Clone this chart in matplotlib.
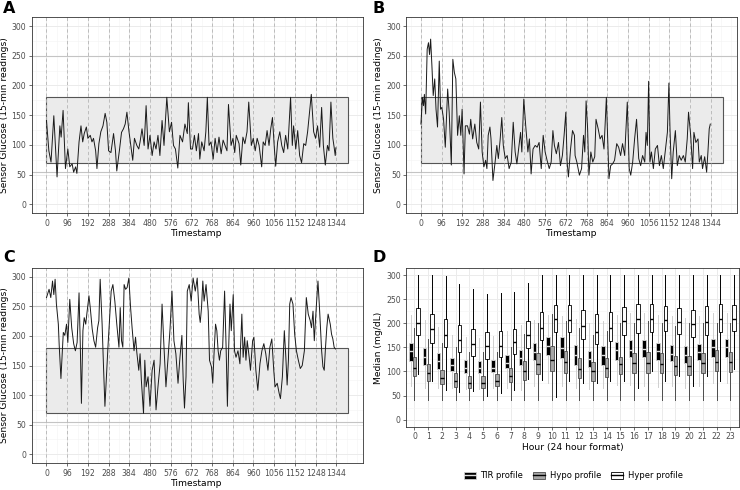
import numpy as np
import matplotlib
matplotlib.use("Agg")
from matplotlib import pyplot as plt
from matplotlib.patches import Rectangle, Patch
from matplotlib.lines import Line2D
from matplotlib.ticker import MultipleLocator

# ---- time series (timestamp, glucose) key points ----
series_a = [(0, 141), (11, 90), (21, 71), (34, 149), (49, 46), (62, 132), (68, 113), (77, 158),
            (88, 60), (99, 93), (108, 63), (119, 68), (126, 54), (135, 63), (141, 52), (151, 105),
            (160, 132), (168, 105), (175, 119), (185, 130), (192, 111), (203, 116), (211, 105),
            (218, 111), (228, 90), (234, 60), (243, 102), (252, 122), (262, 132), (272, 153),
            (280, 138), (288, 90), (299, 87), (311, 119), (320, 90), (326, 56), (339, 93),
            (348, 121), (357, 127), (365, 135), (373, 155), (382, 124), (391, 99), (400, 74),
            (408, 111), (419, 99), (428, 93), (434, 105), (443, 127), (453, 99), (462, 166),
            (471, 93), (480, 116), (490, 82), (499, 105), (508, 93), (517, 116), (526, 82),
            (536, 141), (545, 99), (558, 180), (570, 122), (580, 138), (589, 99), (598, 93),
            (609, 61), (619, 116), (631, 105), (642, 135), (653, 119), (658, 171), (668, 93),
            (677, 93), (686, 116), (695, 90), (705, 119), (711, 76), (720, 105), (731, 90),
            (739, 122), (746, 180), (754, 99), (763, 105), (773, 76), (782, 111), (791, 87),
            (800, 113), (810, 85), (819, 108), (828, 99), (837, 90), (844, 168), (856, 99),
            (865, 111), (873, 87), (880, 116), (893, 102), (901, 66), (911, 113), (920, 102),
            (930, 122), (938, 172), (950, 99), (959, 111), (968, 90), (977, 111), (986, 99),
            (998, 63), (1005, 105), (1014, 99), (1023, 124), (1032, 99), (1040, 127), (1048, 146),
            (1057, 93), (1063, 64), (1072, 105), (1082, 122), (1091, 99), (1100, 87), (1109, 116),
            (1119, 93), (1132, 180), (1140, 99), (1146, 132), (1156, 93), (1165, 124), (1174, 82),
            (1183, 70), (1193, 102), (1202, 99), (1211, 122), (1220, 155), (1228, 185), (1239, 122),
            (1248, 111), (1257, 132), (1267, 96), (1276, 163), (1284, 99), (1293, 66), (1303, 99),
            (1310, 90), (1319, 172), (1328, 111), (1334, 96), (1339, 82), (1342, 95)]

series_b = [(0, 135), (7, 180), (12, 166), (16, 185), (22, 152), (29, 261), (35, 272), (40, 252),
            (45, 278), (51, 233), (57, 183), (64, 211), (70, 160), (77, 130), (85, 241), (91, 160),
            (97, 163), (105, 143), (113, 96), (124, 194), (131, 155), (141, 66), (148, 244),
            (155, 222), (162, 211), (170, 116), (178, 149), (185, 116), (191, 160), (200, 51),
            (206, 132), (216, 132), (225, 118), (231, 143), (240, 110), (250, 135), (259, 104),
            (268, 93), (276, 172), (284, 88), (292, 63), (300, 74), (306, 60), (312, 116),
            (320, 130), (325, 110), (334, 40), (344, 71), (352, 99), (359, 77), (367, 107),
            (375, 146), (382, 99), (391, 77), (400, 82), (409, 60), (419, 71), (428, 138),
            (437, 88), (445, 68), (453, 93), (462, 121), (468, 88), (477, 177), (486, 132),
            (496, 88), (503, 110), (511, 51), (520, 93), (530, 99), (539, 96), (548, 104),
            (558, 60), (567, 116), (576, 88), (585, 74), (595, 60), (604, 71), (612, 124),
            (619, 99), (628, 85), (638, 104), (647, 65), (656, 82), (664, 116), (672, 155),
            (678, 71), (684, 46), (694, 93), (703, 124), (712, 116), (715, 82), (723, 71),
            (735, 49), (745, 60), (754, 116), (760, 88), (766, 174), (773, 127), (779, 49),
            (788, 88), (797, 71), (806, 80), (812, 143), (822, 127), (831, 110), (840, 116),
            (849, 93), (860, 180), (866, 110), (872, 43), (880, 65), (889, 68), (898, 74),
            (908, 102), (917, 96), (926, 82), (935, 102), (945, 82), (957, 172), (966, 60),
            (973, 49), (982, 71), (991, 110), (1000, 143), (1010, 77), (1019, 65), (1028, 82),
            (1038, 71), (1044, 121), (1050, 99), (1056, 207), (1062, 71), (1069, 88), (1078, 60),
            (1087, 93), (1097, 99), (1106, 65), (1115, 82), (1124, 60), (1134, 93), (1143, 121),
            (1150, 204), (1155, 127), (1163, 43), (1170, 88), (1180, 124), (1189, 65), (1198, 82),
            (1207, 74), (1217, 82), (1226, 71), (1235, 110), (1241, 155), (1251, 116), (1260, 60),
            (1266, 121), (1275, 104), (1285, 110), (1291, 71), (1300, 82), (1306, 60), (1316, 80),
            (1325, 54), (1331, 88), (1337, 127), (1342, 135)]

series_c = [(0, 265), (12, 279), (20, 265), (28, 293), (34, 270), (40, 296), (46, 254), (55, 220),
            (59, 184), (67, 128), (73, 170), (78, 206), (85, 201), (93, 220), (99, 189), (108, 262),
            (117, 214), (126, 187), (134, 175), (142, 189), (151, 273), (157, 181), (162, 86),
            (169, 209), (175, 231), (182, 220), (188, 240), (197, 268), (203, 248), (212, 212),
            (220, 192), (228, 181), (237, 214), (243, 226), (249, 296), (258, 220), (264, 153),
            (271, 81), (277, 125), (285, 181), (292, 226), (300, 276), (308, 287), (317, 259),
            (326, 220), (336, 181), (342, 248), (348, 192), (354, 181), (360, 287), (367, 279),
            (374, 282), (382, 298), (390, 248), (397, 214), (406, 175), (413, 198), (419, 172),
            (428, 142), (434, 170), (440, 125), (450, 69), (456, 159), (462, 114), (471, 131),
            (480, 81), (490, 142), (499, 159), (508, 75), (517, 114), (527, 153), (536, 254),
            (545, 181), (554, 114), (564, 164), (573, 212), (582, 276), (591, 192), (600, 170),
            (610, 120), (619, 164), (628, 201), (634, 125), (640, 78), (647, 131), (653, 276),
            (662, 287), (671, 259), (680, 298), (690, 276), (699, 298), (708, 237), (713, 223),
            (719, 248), (725, 293), (731, 259), (740, 287), (750, 242), (756, 159), (765, 148),
            (771, 120), (777, 170), (784, 220), (790, 209), (796, 175), (802, 159), (808, 175),
            (817, 181), (826, 276), (833, 181), (839, 81), (845, 181), (851, 254), (857, 209),
            (866, 270), (872, 175), (879, 164), (888, 175), (897, 153), (906, 237), (912, 164),
            (919, 198), (925, 159), (931, 192), (940, 164), (946, 142), (956, 192), (962, 198),
            (971, 142), (980, 108), (990, 153), (999, 175), (1008, 187), (1017, 170), (1027, 142),
            (1036, 181), (1045, 195), (1054, 142), (1060, 114), (1070, 120), (1079, 103),
            (1085, 94), (1094, 131), (1103, 209), (1110, 164), (1116, 117), (1122, 159),
            (1128, 254), (1134, 265), (1143, 254), (1151, 203), (1159, 175), (1168, 159),
            (1177, 145), (1186, 150), (1196, 175), (1205, 265), (1214, 237), (1223, 226),
            (1229, 214), (1236, 242), (1242, 192), (1251, 248), (1259, 293), (1266, 248),
            (1276, 175), (1282, 148), (1288, 142), (1294, 181), (1300, 214), (1306, 237),
            (1316, 220), (1322, 203), (1328, 195), (1334, 181), (1340, 178)]

timestamp_ticks = list(range(0, 1345, 96))

# ---- hourly box statistics (mg/dL) ----
hours = list(range(24))
profiles = ["TIR profile", "Hypo profile", "Hyper profile"]

tir_q1 = [122, 114, 106, 100, 97, 97, 99, 107, 113, 124, 135, 128, 114, 109, 114, 124, 131, 131, 124, 121, 118, 123, 131, 131]
tir_med = [143, 130, 122, 113, 108, 107, 108, 117, 128, 140, 152, 148, 135, 125, 134, 145, 145, 147, 143, 137, 135, 140, 150, 150]
tir_q3 = [160, 148, 138, 128, 124, 122, 124, 135, 145, 159, 172, 172, 155, 143, 152, 162, 165, 165, 160, 155, 152, 157, 167, 167]
tir_lo = [70, 66, 66, 65, 63, 63, 65, 66, 61, 70, 75, 70, 66, 64, 66, 72, 72, 70, 68, 70, 65, 70, 75, 75]
tir_hi = [217, 206, 193, 176, 172, 169, 174, 184, 196, 206, 217, 215, 210, 200, 205, 218, 222, 222, 218, 215, 212, 216, 222, 222]

hypo_q1 = [90, 80, 73, 68, 66, 66, 70, 79, 83, 94, 102, 97, 87, 81, 89, 94, 97, 97, 97, 92, 92, 97, 102, 99]
hypo_med = [108, 97, 86, 80, 77, 77, 80, 90, 101, 115, 124, 120, 106, 101, 107, 115, 118, 118, 115, 112, 112, 117, 120, 119]
hypo_q3 = [130, 115, 104, 96, 90, 90, 94, 107, 121, 138, 152, 143, 129, 120, 128, 131, 138, 141, 138, 133, 133, 138, 145, 140]
hypo_lo = [40] * 24
hypo_hi = [190, 168, 160, 150, 140, 140, 140, 150, 178, 200, 220, 205, 190, 175, 185, 200, 200, 205, 200, 195, 200, 200, 200, 200]

hyper_q1 = [176, 160, 150, 140, 132, 126, 131, 137, 148, 165, 181, 181, 167, 157, 163, 176, 179, 181, 184, 177, 172, 176, 181, 184]
hyper_med = [200, 188, 175, 165, 157, 153, 153, 161, 175, 191, 209, 207, 195, 183, 190, 204, 209, 210, 206, 203, 198, 203, 210, 210]
hyper_q3 = [232, 220, 210, 196, 189, 181, 184, 189, 204, 224, 239, 239, 228, 219, 224, 235, 241, 241, 237, 232, 228, 236, 241, 239]
hyper_lo = [95, 80, 62, 57, 60, 50, 55, 62, 85, 82, 47, 80, 75, 75, 80, 80, 65, 100, 80, 90, 70, 90, 80, 105]
hyper_hi = [300, 300, 298, 282, 272, 262, 263, 265, 284, 300, 300, 300, 300, 300, 300, 300, 300, 300, 300, 300, 300, 300, 300, 300]

TICK = "#4d4d4d"
GRID = "#ebebeb"
BORDER = "#333333"
LABEL_SIZE = 6.6

fig = plt.figure(figsize=(7.4, 4.9), dpi=100)


def style_axes(ax):
    for sp in ax.spines.values():
        sp.set_color(BORDER)
        sp.set_linewidth(0.6)
    ax.tick_params(axis="both", colors=BORDER, labelcolor=TICK, labelsize=5.6,
                   length=2.5, width=0.5, pad=1.5)
    ax.tick_params(which="minor", length=0)
    ax.grid(True, which="major", color=GRID, lw=0.7, zorder=0)
    ax.grid(True, which="minor", color="#f4f4f4", lw=0.4, zorder=0)
    ax.set_axisbelow(True)


def draw_series(ax, pairs):
    t, v = np.array(pairs).T
    ax.set_xlim(-68, 1466)
    ax.set_ylim(-15, 315)
    ax.set_xticks(timestamp_ticks)
    ax.xaxis.set_minor_locator(MultipleLocator(48))
    ax.yaxis.set_major_locator(MultipleLocator(50))
    ax.yaxis.set_minor_locator(MultipleLocator(25))
    style_axes(ax)
    ax.add_patch(Rectangle((0, 70), 1400, 110, facecolor="#ebebeb", edgecolor="#555555",
                           lw=0.8, zorder=1))
    for y in (250, 54):
        ax.axhline(y, color="#c4c4c4", lw=0.8, zorder=1.5)
    for x in timestamp_ticks:
        ax.axvline(x, color="#b5b5b5", lw=0.6, ls=(0, (4, 3)), zorder=1.6)
    ax.plot(t, v, color="#1a1a1a", lw=0.7, zorder=3)
    ax.set_xlabel("Timestamp", fontsize=LABEL_SIZE, labelpad=1)
    ax.set_ylabel("Sensor Glucose (15-min readings)", fontsize=LABEL_SIZE, labelpad=2)


ax_a = fig.add_axes([0.043, 0.565, 0.447, 0.400])
ax_b = fig.add_axes([0.549, 0.565, 0.447, 0.400])
ax_c = fig.add_axes([0.043, 0.055, 0.447, 0.398])
ax_d = fig.add_axes([0.549, 0.129, 0.449, 0.324])

draw_series(ax_a, series_a)
draw_series(ax_b, series_b)
draw_series(ax_c, series_c)

# ---- panel D: hourly boxplots ----
box_specs = [
    (tir_q1, tir_med, tir_q3, tir_lo, tir_hi, -0.27, "black", "#cfcfcf", "#e0e0e0"),
    (hypo_q1, hypo_med, hypo_q3, hypo_lo, hypo_hi, 0.0, "#a6a6a6", "#4d4d4d", "black"),
    (hyper_q1, hyper_med, hyper_q3, hyper_lo, hyper_hi, 0.27, "white", "black", "black"),
]
for q1, med, q3, lo, hi, off, face, edge, medc in box_specs:
    stats = [dict(q1=a, med=m, q3=b, whislo=l, whishi=h) for a, m, b, l, h in zip(q1, med, q3, lo, hi)]
    ax_d.bxp(stats, positions=[h + off for h in hours], widths=0.25, patch_artist=True,
             showfliers=False, showcaps=False, manage_ticks=False,
             boxprops=dict(facecolor=face, edgecolor=edge, lw=0.6),
             whiskerprops=dict(color=edge, lw=0.7),
             medianprops=dict(color=medc, lw=1.0))

ax_d.set_xlim(-0.6, 23.6)
ax_d.set_ylim(-15, 315)
ax_d.set_xticks(hours)
ax_d.set_xticklabels([str(h) for h in hours])
ax_d.yaxis.set_major_locator(MultipleLocator(50))
ax_d.yaxis.set_minor_locator(MultipleLocator(25))
style_axes(ax_d)
ax_d.set_xlabel("Hour (24 hour format)", fontsize=LABEL_SIZE, labelpad=1)
ax_d.set_ylabel("Median (mg/dL)", fontsize=LABEL_SIZE, labelpad=2)

# panel letters
for label, x, y in [("A", 0.004, 0.997), ("B", 0.503, 0.997), ("C", 0.004, 0.49), ("D", 0.503, 0.49)]:
    fig.text(x, y, label, fontsize=11.5, fontweight="bold", va="top", ha="left")

handles = []
for face, edge, medc in [("black", "#cfcfcf", "#e0e0e0"), ("#a6a6a6", "#4d4d4d", "black"),
                         ("white", "black", "black")]:
    handles.append((Patch(facecolor=face, edgecolor=edge, lw=0.6),
                    Line2D([], [], color=medc, lw=1.0)))
fig.legend(handles, profiles, loc="center", bbox_to_anchor=(0.775, 0.029), ncol=3,
           frameon=False, fontsize=6, handlelength=1.4, handleheight=1.0,
           columnspacing=1.2, handletextpad=0.6)

fig.savefig("out.png", dpi=100)
